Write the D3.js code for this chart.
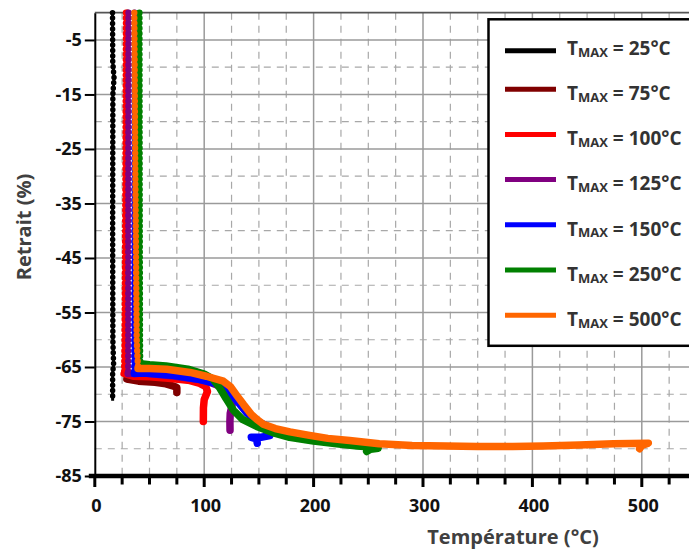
<!DOCTYPE html>
<html>
<head>
<meta charset="utf-8">
<script src="https://cdn.jsdelivr.net/npm/d3@7"></script>
<style>
  html, body { margin: 0; padding: 0; background: #fff; }
  svg { display: block; }
</style>
</head>
<body>
<svg id="chart" width="689" height="549"></svg>
<script>
// ---------------- DATA ----------------
const legendLabels = ["25°C", "75°C", "100°C", "125°C", "150°C", "250°C", "500°C"];
const seriesColors = ["#000000", "#800000", "#ff0000", "#800080", "#0000ff", "#008000", "#ff6600"];

const xTickValues = d3.range(0, 551, 25);
const xLabelValues = [0, 100, 200, 300, 400, 500];
const yTickValues = [-5, -15, -25, -35, -45, -55, -65, -75, -85];

// [Température (°C), Retrait (%)]
const s25 = [[16.2, 0], [16.4, -9], [17.6, -12], [16.5, -15], [16.3, -40], [16.5, -60], [17.2, -64.6], [16.3, -66], [16.3, -71.2]];
const s75 = [[29.9, 0], [29.7, -30], [29.5, -60], [29.3, -67.2], [40, -67.6], [55, -67.8], [65, -68.1], [72, -68.5], [75, -68.8], [75, -69.7]];
const s100 = [[28.5, 0], [28, -30], [27.2, -60], [26.8, -66.2], [35, -66.7], [50, -66.8], [70, -67.1], [87, -67.5], [96, -68], [101.5, -68.6], [103, -69.5], [100, -71], [99.3, -72.5], [99.2, -75]];
const s125 = [[30.8, 0], [30.6, -30], [30.5, -60], [30.5, -66.2], [45, -66.1], [70, -66.6], [100, -67.4], [115, -68.6], [125, -70.5], [125.5, -72], [123.8, -73.5], [123.5, -75], [123.6, -76.6]];
const s150 = [[36.3, 0], [36.2, -30], [36.1, -60], [36.1, -66.2], [45, -66.1], [70, -66.5], [96, -67.3], [110, -68], [120.6, -69.2], [130, -71.2], [138.8, -73.4], [148, -74.9], [157, -75.8], [161, -76.6], [160, -77.6], [152, -77.9], [143, -77.9], [148, -78.2], [148.5, -79]];
const s250 = [[40.8, 0], [41, -30], [41.3, -60], [41.5, -64.4], [50, -64.6], [65, -64.8], [85, -65.4], [100, -66.3], [108, -67.2], [114.4, -68.9], [120, -70.8], [126.6, -72.9], [135, -74.6], [148, -75.9], [165, -77.2], [178, -77.9], [200, -78.6], [225, -79.2], [240, -79.5], [252, -79.7], [259, -79.9], [252, -80.1], [248.5, -80.5]];
const s500 = [[36.1, 0], [37, -30], [38.3, -60], [39.5, -65.3], [50, -65.3], [65.7, -65.4], [87, -66.0], [102, -66.7], [117.5, -67.6], [124, -68.6], [129.7, -70.2], [136, -71.9], [143, -73.7], [148, -74.6], [154, -75.5], [165, -76.3], [178.4, -76.9], [195, -77.5], [213, -78.1], [233, -78.5], [260, -79.1], [290, -79.4], [321, -79.5], [350, -79.6], [382, -79.6], [410, -79.5], [443, -79.3], [474, -79.1], [506, -79.0], [500, -79.4], [498, -80.0]];

const seriesData = [s25, s75, s100, s125, s150, s250, s500];
// index of the point where the curve turns from the vertical part into the horizontal part (null = none)
const kneeIndex = [null, 3, 3, 3, 3, 3, 3];

// ---------------- CHART ----------------
const svg = d3.select("#chart");
const FONT = "'Open Sans', 'DejaVu Sans', sans-serif";

const x = d3.scaleLinear().domain([0, 550]).range([94.8, 696.5]);
const y = d3.scaleLinear().domain([-85, 0]).range([476, 12.7]);

const pLeft = x(0), pRight = 689, pTop = y(0), pBottom = y(-85);

// grid
const grid = svg.append("g");
xTickValues.filter(v => v > 0 && v % 100 !== 0).forEach(v => {
  grid.append("line").attr("x1", x(v)).attr("x2", x(v)).attr("y1", pTop).attr("y2", pBottom)
    .attr("stroke", "#a8a8a8").attr("stroke-width", 1.2).attr("stroke-dasharray", "7,6");
});
xTickValues.filter(v => v > 0 && v % 100 === 0).forEach(v => {
  grid.append("line").attr("x1", x(v)).attr("x2", x(v)).attr("y1", pTop).attr("y2", pBottom)
    .attr("stroke", "#9a9a9a").attr("stroke-width", 1.5);
});
d3.range(-80, -9, 10).forEach(v => {
  grid.append("line").attr("x1", pLeft).attr("x2", pRight).attr("y1", y(v)).attr("y2", y(v))
    .attr("stroke", "#a8a8a8").attr("stroke-width", 1.2).attr("stroke-dasharray", "7,6");
});
yTickValues.filter(v => v > -85).forEach(v => {
  grid.append("line").attr("x1", pLeft).attr("x2", pRight).attr("y1", y(v)).attr("y2", y(v))
    .attr("stroke", "#9a9a9a").attr("stroke-width", 1.5);
});
grid.append("line").attr("x1", pLeft).attr("x2", pRight).attr("y1", pTop).attr("y2", pTop)
  .attr("stroke", "#555").attr("stroke-width", 1.8);

// curves
const line = d3.line().x(d => x(d[0])).y(d => y(d[1]));
const curves = svg.append("g");
seriesData.forEach((pts, i) => {
  const c = seriesColors[i];
  const isBlack = i === 0;
  const g = curves.append("g");
  g.append("path").attr("d", line(pts)).attr("fill", "none").attr("stroke", c)
    .attr("stroke-width", isBlack ? 3 : 3.2).attr("stroke-linejoin", "round");
  const vert = kneeIndex[i] == null ? pts : pts.slice(0, kneeIndex[i] + 1);
  g.append("path").attr("d", line(vert)).attr("fill", "none").attr("stroke", c)
    .attr("stroke-width", isBlack ? 5.5 : 6.4).attr("stroke-linecap", "round")
    .attr("stroke-dasharray", isBlack ? "0 5.4" : "0 5.2");
  if (kneeIndex[i] != null) {
    g.append("path").attr("d", line(pts.slice(kneeIndex[i]))).attr("fill", "none").attr("stroke", c)
      .attr("stroke-width", 7.5).attr("stroke-linejoin", "round").attr("stroke-linecap", "round");
  }
});

// y axis
const yAxis = d3.axisLeft(y).tickValues(yTickValues).tickSize(10).tickSizeOuter(0).tickPadding(3)
  .tickFormat(d => String(d));
const yg = svg.append("g").attr("transform", `translate(${pLeft},0)`).call(yAxis);
yg.select(".domain").attr("stroke", "#000").attr("stroke-width", 2);
yg.selectAll(".tick line").attr("stroke", "#000").attr("stroke-width", 2);
yg.selectAll(".tick text").attr("font-family", FONT).attr("font-weight", 700)
  .attr("font-size", 18).attr("fill", "#111");

// x axis
const xg = svg.append("g").attr("transform", `translate(0,${pBottom})`);
xg.append("line").attr("x1", pLeft - 6).attr("x2", pRight).attr("y1", 0).attr("y2", 0)
  .attr("stroke", "#000").attr("stroke-width", 4.5);
xTickValues.forEach(v => {
  if (x(v) > pRight) return;
  xg.append("line").attr("x1", x(v)).attr("x2", x(v)).attr("y1", 0)
    .attr("y2", v % 100 === 0 ? 11 : 8.5).attr("stroke", "#000").attr("stroke-width", 3);
});
xLabelValues.forEach(v => {
  xg.append("text").attr("x", x(v) + 1.5).attr("y", 23).attr("dy", "0.71em")
    .attr("text-anchor", "middle").attr("font-family", FONT).attr("font-weight", 700)
    .attr("font-size", 18).attr("fill", "#111").text(v);
});

// axis titles
svg.append("text").attr("x", 513).attr("y", 544).attr("text-anchor", "middle")
  .attr("font-family", FONT).attr("font-weight", 700).attr("font-size", 20).attr("fill", "#404040")
  .text("Température (°C)");
svg.append("text").attr("transform", "translate(31,227) rotate(-90)").attr("text-anchor", "middle")
  .attr("font-family", FONT).attr("font-weight", 700).attr("font-size", 20).attr("fill", "#404040")
  .text("Retrait (%)");

// legend
const lg = svg.append("g");
lg.append("rect").attr("x", 488.5).attr("y", 19.3).attr("width", 230).attr("height", 326.5)
  .attr("fill", "#fff").attr("stroke", "#000").attr("stroke-width", 2.5);
legendLabels.forEach((lab, i) => {
  const cy = 48 + i * 45.2;
  const ly = i === 0 ? cy + 2.7 : cy - 4;
  lg.append("line").attr("x1", 505).attr("x2", 556).attr("y1", ly).attr("y2", ly)
    .attr("stroke", seriesColors[i]).attr("stroke-width", 5);
  const t = lg.append("text").attr("x", 567).attr("y", cy + 6.8)
    .attr("font-family", FONT).attr("font-weight", 700).attr("font-size", 19).attr("fill", "#333");
  t.append("tspan").text("T");
  t.append("tspan").attr("font-size", 13).attr("dy", 1.8).text("MAX");
  t.append("tspan").attr("dy", -1.8).text(" = " + lab);
});
</script>
</body>
</html>
